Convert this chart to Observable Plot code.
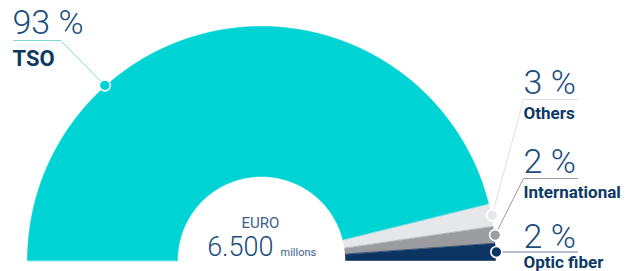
<!DOCTYPE html>
<html>
<head>
<meta charset="utf-8">
<script src="https://cdn.jsdelivr.net/npm/d3@7"></script>
<script src="https://cdn.jsdelivr.net/npm/@observablehq/plot@0.6"></script>
<style>
  html, body { margin: 0; padding: 0; background: #fff; }
  #chart { width: 639px; height: 271px; }
</style>
</head>
<body>
<div id="chart"></div>
<script>
// ---- data ----
const categories = ["TSO", "Others", "International", "Optic fiber"];
const shares = [92.3, 3.1, 2.3, 2.3];            // geometric shares
const percentLabels = ["93 %", "3 %", "2 %", "2 %"];
const sliceColors = ["#00d3d4", "#e6e7ea", "#9b9ca0", "#0b3462"];
const leaderColors = ["#7fd6dc", "#dedfe2", "#9b9ca0", "#6b7a8c"];
const totalCaption = "EURO";
const totalValue = "6.500";
const totalUnit = "millons";

// ---- layout (pixels) ----
const W = 639, H = 271;
const CX = 261, CY = 260, R = 234, R_IN = 84;
const px = (x) => (x - CX) / R;          // pixel -> unit
const py = (y) => (CY - y) / R;

const labelLayout = [
  {elbow: [60, 40],  end: [13, 40],  textX: 12,  pctY: 33,  nameY: 65,  nameSize: 22, dotFrac: 0.29},
  {elbow: [523, 99], end: [577, 99], textX: 523, pctY: 93,  nameY: 118, nameSize: 17, dotFrac: 0.5},
  {elbow: [523, 178],end: [577, 178],textX: 523, pctY: 172, nameY: 197, nameSize: 17, dotFrac: 0.5},
  {elbow: null,      end: [577, null],textX: 523, pctY: 247, nameY: 267, nameSize: 17, dotFrac: 0.5}
];

// ---- geometry from data ----
const total = d3.sum(shares);
let cum = 0;
const slices = categories.map((c, i) => {
  const a0 = Math.PI * (1 - cum / total);
  cum += shares[i];
  const a1 = Math.PI * (1 - cum / total);
  return {category: c, a0, a1, color: sliceColors[i], i};
});

const N = 120;
const polys = slices.map(s => {
  const pts = [];
  for (let k = 0; k <= N; k++) {
    const a = s.a0 + (s.a1 - s.a0) * k / N;
    pts.push({x: Math.cos(a), y: Math.sin(a)});
  }
  const rin = R_IN / R;
  for (let k = N; k >= 0; k--) {
    const a = s.a0 + (s.a1 - s.a0) * k / N;
    pts.push({x: rin * Math.cos(a), y: rin * Math.sin(a)});
  }
  return pts;
});

const dotR = 235 / R;
const dots = slices.map((s, i) => {
  const a = s.a0 + (s.a1 - s.a0) * labelLayout[i].dotFrac;
  return {x: dotR * Math.cos(a), y: dotR * Math.sin(a), color: s.color, i};
});

const leaders = dots.map((d, i) => {
  const L = labelLayout[i];
  const pts = [{x: d.x, y: d.y}];
  if (L.elbow) {
    pts.push({x: px(L.elbow[0]), y: py(L.elbow[1])});
    pts.push({x: px(L.end[0]), y: py(L.end[1])});
  } else {
    pts.push({x: px(L.end[0]), y: d.y});
  }
  return pts;
});

const font = "Roboto, 'Open Sans', sans-serif";
const numColor = "#1b4d7d";
const nameColor = "#0d3a64";

const marks = [];
polys.forEach((p, i) => {
  marks.push(Plot.line(p, {x: "x", y: "y", fill: sliceColors[i], stroke: sliceColors[i], strokeWidth: 0.6, curve: "linear-closed"}));
});
leaders.forEach((p, i) => {
  marks.push(Plot.line(p, {x: "x", y: "y", stroke: leaderColors[i], strokeWidth: 1, curve: "linear"}));
});
marks.push(Plot.dot(dots, {x: "x", y: "y", r: 5.5, fill: "color", stroke: "#ffffff", strokeWidth: 1.6}));

const pctTexts = categories.map((c, i) => ({x: px(labelLayout[i].textX), y: py(labelLayout[i].pctY), t: percentLabels[i]}));
const nameTexts = categories.map((c, i) => ({x: px(labelLayout[i].textX), y: py(labelLayout[i].nameY), t: c, size: labelLayout[i].nameSize}));

marks.push(Plot.text(pctTexts, {x: "x", y: "y", text: "t", textAnchor: "start", lineAnchor: "bottom", fontSize: 34, fontWeight: 300, fontFamily: font, fill: numColor}));
nameTexts.forEach(n => {
  marks.push(Plot.text([n], {x: "x", y: "y", text: "t", textAnchor: "start", lineAnchor: "bottom", fontSize: n.size, fontWeight: 700, fontFamily: font, fill: nameColor}));
});

// center total
marks.push(Plot.text([{x: px(260), y: py(227), t: totalCaption}], {x: "x", y: "y", text: "t", textAnchor: "middle", lineAnchor: "bottom", fontSize: 15, fontWeight: 400, fontFamily: font, fill: "#3d6088"}));
marks.push(Plot.text([{x: px(273), y: py(255), t: totalValue}], {x: "x", y: "y", text: "t", textAnchor: "end", lineAnchor: "bottom", fontSize: 27, fontWeight: 300, fontFamily: font, fill: numColor}));
marks.push(Plot.text([{x: px(280), y: py(255), t: totalUnit}], {x: "x", y: "y", text: "t", textAnchor: "start", lineAnchor: "bottom", fontSize: 11, fontWeight: 400, fontFamily: font, fill: "#3d6088"}));

const chart = Plot.plot({
  width: W, height: H,
  margin: 0,
  style: {background: "#fff", overflow: "visible"},
  x: {domain: [px(0), px(W)], range: [0, W], axis: null},
  y: {domain: [py(H), py(0)], range: [H, 0], axis: null},
  color: {type: "identity"},
  marks
});
document.getElementById("chart").appendChild(chart);
</script>
</body>
</html>
